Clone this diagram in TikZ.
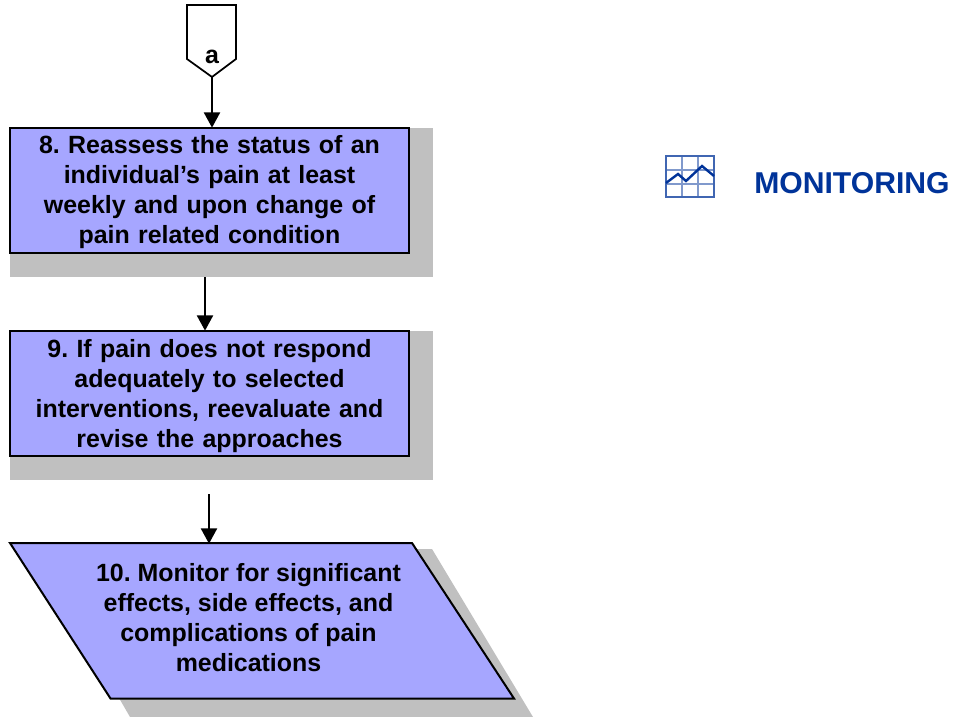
\documentclass[tikz,border=0pt]{standalone}
\usepackage{fontspec}
\setmainfont{Liberation Sans}
\usetikzlibrary{arrows.meta,positioning}
\definecolor{myblue}{RGB}{166,166,255}
\definecolor{mygray}{RGB}{192,192,192}
\definecolor{mynavy}{RGB}{0,51,153}

\begin{document}
\frenchspacing
\begin{tikzpicture}[
  x=0.75pt,
  y=-0.75pt,
  mybox/.style={
    draw,
    line width=1.5pt,
    fill=myblue,
    rectangle,
    minimum width=299.25pt,
    minimum height=93.75pt,
    inner sep=0pt,
    text width=295pt,
    align=center,
    font=\bfseries\fontsize{18.7}{22.5}\selectfont
    },
  myshadow/.style={fill=mygray, draw=none},
  myarrow/.style={-{Triangle[length=11.5pt,width=12pt]}, line width=1.8pt, shorten >=-0.5pt}
]
\useasboundingbox (0,0) rectangle (953,717);

% shadows
\fill[myshadow] (10,128) rectangle (433,277);
\fill[myshadow] (10,331) rectangle (433,480);
\fill[myshadow] (33,549) -- (432,549) -- (533,717) -- (130,717) -- cycle;

% boxes
\node[mybox] (reassess) at (209.5,190.5) {\rule{0pt}{16pt}8. Reassess the status of an\\individual’s pain at least\\weekly and upon change of\\pain related condition};
\node[mybox] (revise) at (209.5,393.5) {\rule{0pt}{17pt}9. If pain does not respond\\adequately to selected\\interventions, reevaluate and\\revise the approaches};

\draw[line width=1.5pt, fill=myblue] (10,543) -- (412,543) -- (514,698.5) -- (110.5,698.5) -- cycle;
\node[align=center, font=\bfseries\fontsize{18.7}{22.5}\selectfont] (monitor) at (248.5,618) {10. Monitor for significant\\effects, side effects, and\\complications of pain\\medications};

% off-page connector
\draw[line width=1.3pt, fill=white] (187,5) -- (236,5) -- (236,59) -- (212,77) -- (187,59) -- cycle;
\node[font=\bfseries\fontsize{18.7}{22}\selectfont] (a) at (212,57) {a};
\coordinate (apoint) at (212,77);
\coordinate (start9) at (205,277);
\coordinate (start10) at (209,494);
\coordinate (end10) at (209,543);

\draw[myarrow] (apoint) -- (apoint |- reassess.north);
\draw[myarrow] (start9) -- (start9 |- revise.north);
\draw[myarrow] (start10) -- (end10);

% chart icon
\foreach \x in {682,698}
  \draw[mynavy!50, line width=0.8pt] (\x,156) -- (\x,197);
\foreach \y in {170,184}
  \draw[mynavy!50, line width=0.8pt] (666,\y) -- (714,\y);
\draw[mynavy!75, line width=0.8pt] (666,156) rectangle (714,197);
\draw[mynavy, line width=1.8pt] (666,183) -- (678,174) -- (686,181) -- (702,166) -- (714,176);

\node[font=\bfseries\fontsize{22.6}{27}\selectfont, text=mynavy, anchor=west, inner sep=0pt] (monitoring) at (754,183) {MONITORING};
\end{tikzpicture}
\end{document}
